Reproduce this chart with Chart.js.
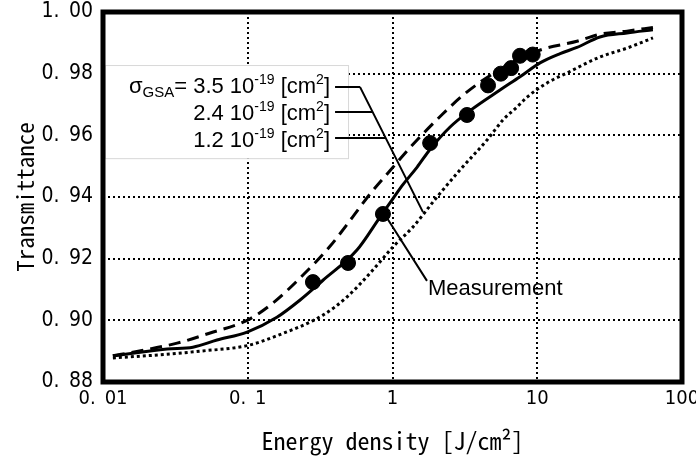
<!DOCTYPE html>
<html>
<head>
<meta charset="utf-8">
<script src="https://cdn.jsdelivr.net/npm/chart.js@4.4.0/dist/chart.umd.min.js"></script>
<style>
html, body { margin: 0; padding: 0; background: #fff; }
</style>
</head>
<body>
<canvas id="myChart" width="696" height="468"></canvas>
<script>
// sigma_GSA = 3.5e-19 cm2 (dashed)
const sigma35X = [0.0117, 0.0175, 0.0325, 0.055, 0.099, 0.149, 0.241, 0.37, 0.53, 0.70, 0.96, 1.32, 2.23, 3.07, 4.02, 4.95, 7.25, 11.0, 18.8, 27.1, 41.7, 63];
const sigma35Y = [0.8885, 0.8900, 0.8926, 0.8959, 0.9000, 0.9056, 0.9147, 0.9240, 0.9335, 0.9410, 0.9485, 0.9560, 0.9670, 0.9730, 0.9772, 0.9800, 0.9845, 0.9880, 0.9905, 0.9928, 0.9938, 0.9950];
// sigma_GSA = 2.4e-19 cm2 (solid)
const sigma24X = [0.0117, 0.0277, 0.0418, 0.0613, 0.099, 0.159, 0.230, 0.331, 0.568, 0.820, 1.008, 1.18, 1.48, 1.82, 2.50, 3.43, 5.53, 7.60, 10.45, 14.4, 18.8, 27.1, 41.7, 63];
const sigma24Y = [0.8885, 0.8907, 0.8913, 0.8936, 0.8962, 0.9010, 0.9066, 0.9130, 0.9228, 0.9335, 0.9395, 0.9440, 0.9497, 0.9555, 0.9627, 0.9680, 0.9747, 0.9790, 0.9835, 0.9865, 0.9885, 0.9919, 0.9932, 0.9942];
// sigma_GSA = 1.2e-19 cm2 (dotted)
const sigma12X = [0.0117, 0.0277, 0.0468, 0.099, 0.159, 0.331, 0.485, 0.70, 1.008, 1.385, 2.03, 2.93, 4.50, 5.80, 7.25, 8.50, 11.7, 16.0, 27.1, 41.7, 63];
const sigma12Y = [0.8878, 0.8890, 0.8900, 0.8918, 0.8950, 0.9017, 0.9076, 0.9153, 0.9238, 0.9303, 0.9400, 0.9488, 0.9585, 0.9650, 0.9692, 0.9724, 0.9770, 0.9802, 0.9854, 0.9883, 0.9916];
// measured points
const measX = [0.282, 0.493, 0.859, 1.82, 3.27, 4.57, 5.6, 6.6, 7.6, 9.3];
const measY = [0.9124, 0.9186, 0.9345, 0.9575, 0.9666, 0.9762, 0.9800, 0.9818, 0.9858, 0.9862];

const xTicks = [0.01, 0.1, 1, 10, 100];
const sigmaLabels = ['3.5', '2.4', '1.2'];

// annotation anchors in data units
const noteBox = { x0: 0.0103, x1: 0.493, yTop: 0.9828, yBot: 0.9526 };
const noteTextRight = 0.370;
const noteBaselines = [0.9737, 0.9650, 0.9562];
const noteLineY = [0.9757, 0.9676, 0.9591];
const noteLineStart = 0.401;
const noteDiag = [[0.596, 0.9757], [1.624, 0.9351]];
const measLeader = [[0.916, 0.9332], [1.731, 0.9128]];
const measLabel = { x: 1.759, y: 0.9082, text: 'Measurement' };

const monoFont = "'Noto Sans Mono CJK JP', 'DejaVu Sans Mono', monospace";
const tickFont = "'Liberation Sans Narrow', 'DejaVu Sans Condensed', sans-serif";
const sansFont = "'Liberation Sans', Arial, sans-serif";

const toPts = (xs, ys) => xs.map((v, i) => ({ x: v, y: ys[i] }));

function drawRich(ctx, parts, right, base) {
    let total = 0;
    parts.forEach(p => {
        ctx.font = p[1] + 'px ' + sansFont;
        total += ctx.measureText(p[0]).width;
    });
    let cx = right - total;
    ctx.textAlign = 'left';
    ctx.textBaseline = 'alphabetic';
    parts.forEach(p => {
        ctx.font = p[1] + 'px ' + sansFont;
        ctx.fillText(p[0], cx, base + p[2]);
        cx += ctx.measureText(p[0]).width;
    });
}

const notesPlugin = {
    id: 'notes',
    beforeDatasetsDraw(chart) {
        const { ctx, scales: { x, y } } = chart;
        const l = x.getPixelForValue(noteBox.x0), r = x.getPixelForValue(noteBox.x1);
        const t = y.getPixelForValue(noteBox.yTop), b = y.getPixelForValue(noteBox.yBot);
        ctx.save();
        ctx.fillStyle = '#fff';
        ctx.fillRect(l, t, r - l, b - t);
        ctx.strokeStyle = '#d8d8d8';
        ctx.lineWidth = 1;
        ctx.strokeRect(l + 0.5, t + 0.5, r - l, b - t);
        ctx.restore();
    },
    afterDatasetsDraw(chart) {
        const { ctx, chartArea: a, scales: { x, y } } = chart;
        ctx.save();
        ctx.strokeStyle = '#000';
        ctx.fillStyle = '#000';
        ctx.lineWidth = 2;
        ctx.setLineDash([]);

        // leader lines for the three curves
        const d0 = [x.getPixelForValue(noteDiag[0][0]), y.getPixelForValue(noteDiag[0][1])];
        const d1 = [x.getPixelForValue(noteDiag[1][0]), y.getPixelForValue(noteDiag[1][1])];
        ctx.beginPath();
        ctx.moveTo(d0[0], d0[1]);
        ctx.lineTo(d1[0], d1[1]);
        noteLineY.forEach(v => {
            const py = y.getPixelForValue(v);
            const px = d0[0] + (d1[0] - d0[0]) * (py - d0[1]) / (d1[1] - d0[1]);
            ctx.moveTo(x.getPixelForValue(noteLineStart), py);
            ctx.lineTo(px, py);
        });
        // leader for measurement
        ctx.moveTo(x.getPixelForValue(measLeader[0][0]), y.getPixelForValue(measLeader[0][1]));
        ctx.lineTo(x.getPixelForValue(measLeader[1][0]), y.getPixelForValue(measLeader[1][1]));
        ctx.stroke();

        // note texts
        const right = x.getPixelForValue(noteTextRight);
        sigmaLabels.forEach((s, i) => {
            const parts = [];
            if (i === 0) {
                parts.push(['\u03c3', 22, 0], ['GSA', 15, 4], ['= ', 22, 0]);
            }
            parts.push([s + ' 10', 22, 0], ['-19', 14, -9], [' [cm', 22, 0], ['2', 14, -9], [']', 22, 0]);
            drawRich(ctx, parts, right, y.getPixelForValue(noteBaselines[i]));
        });
        ctx.font = '22px ' + sansFont;
        ctx.textAlign = 'left';
        ctx.textBaseline = 'alphabetic';
        ctx.fillText(measLabel.text, x.getPixelForValue(measLabel.x), y.getPixelForValue(measLabel.y));

        // frame
        ctx.lineWidth = 5;
        ctx.strokeRect(a.left, a.top, a.right - a.left, a.bottom - a.top);
        ctx.restore();
    }
};

const ctx = document.getElementById('myChart').getContext('2d');
const myChart = new Chart(ctx, {
    type: 'scatter',
    data: {
        datasets: [
            {
                label: 'Measurement',
                data: toPts(measX, measY),
                backgroundColor: '#000',
                borderColor: '#000',
                pointRadius: 7.5,
                showLine: false
            },
            {
                label: '3.5e-19',
                data: toPts(sigma35X, sigma35Y),
                borderColor: '#000',
                borderWidth: 3,
                borderDash: [12, 7],
                pointRadius: 0,
                showLine: true,
                cubicInterpolationMode: 'monotone'
            },
            {
                label: '2.4e-19',
                data: toPts(sigma24X, sigma24Y),
                borderColor: '#000',
                borderWidth: 3,
                pointRadius: 0,
                showLine: true,
                cubicInterpolationMode: 'monotone'
            },
            {
                label: '1.2e-19',
                data: toPts(sigma12X, sigma12Y),
                borderColor: '#000',
                borderWidth: 3,
                borderDash: [3, 3],
                pointRadius: 0,
                showLine: true,
                cubicInterpolationMode: 'monotone'
            }
        ]
    },
    options: {
        responsive: false,
        animation: false,
        events: [],
        layout: { padding: { top: 12, right: 14, left: 0, bottom: 0 } },
        plugins: {
            legend: { display: false },
            tooltip: { enabled: false }
        },
        scales: {
            x: {
                type: 'logarithmic',
                min: 0.01,
                max: 100,
                afterBuildTicks(s) { s.ticks = xTicks.map(v => ({ value: v })); },
                afterFit(s) { s.height = 86; s.paddingLeft = 0; s.paddingRight = 0; },
                ticks: {
                    color: '#000',
                    padding: 5,
                    maxRotation: 0,
                    font: { family: tickFont, size: 20 },
                    callback: v => String(v).replace('.', '.\u2002')
                },
                grid: { color: '#000', lineWidth: 2, drawTicks: false },
                border: { display: false, dash: [2, 3] },
                title: {
                    display: true,
                    text: 'Energy density [J/cm²]',
                    color: '#000',
                    font: { family: monoFont, size: 24 },
                    padding: { top: 0, bottom: 13 }
                }
            },
            y: {
                min: 0.88,
                max: 1.0,
                afterFit(s) { s.width = 103; s.paddingTop = 0; s.paddingBottom = 0; },
                ticks: {
                    stepSize: 0.02,
                    color: '#000',
                    padding: 10,
                    font: { family: tickFont, size: 21 },
                    callback: v => v.toFixed(2).replace('.', '.\u2002')
                },
                grid: { color: '#000', lineWidth: 2, drawTicks: false },
                border: { display: false, dash: [2, 3] },
                title: {
                    display: true,
                    text: 'Transmittance',
                    color: '#000',
                    font: { family: monoFont, size: 23 },
                    padding: { top: 11, bottom: 0 }
                }
            }
        }
    },
    plugins: [notesPlugin]
});
</script>
</body>
</html>
